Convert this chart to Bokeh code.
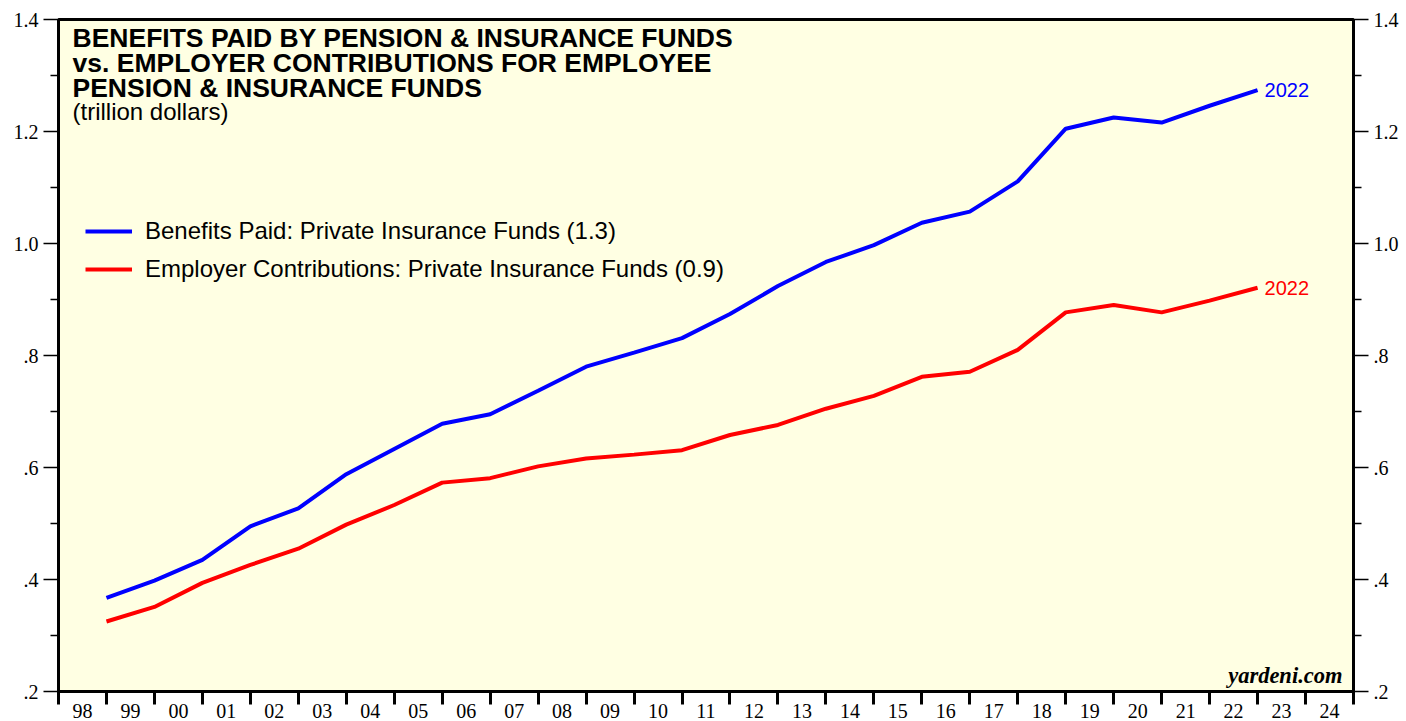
from bokeh.plotting import figure
from bokeh.models import FixedTicker, LinearAxis, Label, Legend, LegendItem
from bokeh.embed import file_html
from bokeh.resources import INLINE

# ---- data (annual, trillion dollars) ----
years = list(range(1998, 2023))
benefits_paid = [0.367, 0.398, 0.435, 0.495, 0.527, 0.588, 0.633, 0.678, 0.695, 0.737,
                 0.780, 0.805, 0.831, 0.874, 0.924, 0.967, 0.997, 1.037, 1.057, 1.111,
                 1.205, 1.225, 1.216, 1.246, 1.274]
employer_contrib = [0.325, 0.351, 0.394, 0.426, 0.455, 0.498, 0.533, 0.573, 0.581, 0.602,
                    0.616, 0.623, 0.631, 0.658, 0.676, 0.705, 0.728, 0.762, 0.771, 0.810,
                    0.877, 0.890, 0.877, 0.898, 0.921]
x_label_years = list(range(1998, 2025))
x_tick_labels = ["98", "99", "00", "01", "02", "03", "04", "05", "06", "07", "08", "09",
                 "10", "11", "12", "13", "14", "15", "16", "17", "18", "19", "20", "21",
                 "22", "23", "24"]
y_ticks = [0.2, 0.4, 0.6, 0.8, 1.0, 1.2, 1.4]
y_tick_labels = [".2", ".4", ".6", ".8", "1.0", "1.2", "1.4"]
y_minor = [0.3, 0.5, 0.7, 0.9, 1.1, 1.3]
title_lines = ["BENEFITS PAID BY PENSION & INSURANCE FUNDS",
               "vs. EMPLOYER CONTRIBUTIONS FOR EMPLOYEE",
               "PENSION & INSURANCE FUNDS"]
subtitle = "(trillion dollars)"
series_names = ["Benefits Paid: Private Insurance Funds (1.3)",
                "Employer Contributions: Private Insurance Funds (0.9)"]

# annual values plotted at year end
xs = [y + 1 for y in years]

SANS = "Liberation Sans"
SERIF = "Liberation Serif"
BLUE = "#0000FF"
RED = "#FF0000"

p = figure(frame_width=1295, frame_height=672,
           x_range=(1998, 2025), y_range=(0.2, 1.4),
           output_backend="svg", toolbar_location=None,
           min_border_left=58, min_border_right=38,
           min_border_top=19, min_border_bottom=24,
           background_fill_color="#FFFFE3", border_fill_color="white")
p.grid.visible = False
p.outline_line_color = "black"
p.outline_line_width = 3

# x axis: labels centered in year, minor ticks at year boundaries
xa = p.xaxis[0]
mid = [y + 0.5 for y in x_label_years]
xa.ticker = FixedTicker(ticks=mid, minor_ticks=x_label_years + [2025])
xa.major_label_overrides = {m: l for m, l in zip(mid, x_tick_labels)}
xa.major_tick_line_color = None
xa.major_tick_out = 0
xa.major_tick_in = 0
xa.minor_tick_out = 13
xa.minor_tick_in = 0
xa.minor_tick_line_width = 3
xa.minor_tick_line_color = "black"
xa.axis_line_width = 3
xa.major_label_standoff = -1
xa.major_label_text_font = SERIF
xa.major_label_text_font_size = "20px"
xa.major_label_text_color = "black"

def style_y(ax):
    ax.ticker = FixedTicker(ticks=y_ticks, minor_ticks=y_minor)
    ax.major_label_overrides = {t: l for t, l in zip(y_ticks, y_tick_labels)}
    ax.major_tick_out = 15
    ax.major_tick_in = 0
    ax.minor_tick_out = 8
    ax.minor_tick_in = 0
    ax.major_tick_line_width = 1.5
    ax.minor_tick_line_width = 1.5
    ax.axis_line_width = 3
    ax.major_label_standoff = 5
    ax.major_label_text_font = SERIF
    ax.major_label_text_font_size = "20px"
    ax.major_label_text_color = "black"

style_y(p.yaxis[0])
ry = LinearAxis()
style_y(ry)
p.add_layout(ry, "right")

r1 = p.line(xs, benefits_paid, line_color=BLUE, line_width=4)
r2 = p.line(xs, employer_contrib, line_color=RED, line_width=4)

legend = Legend(items=[LegendItem(label=series_names[0], renderers=[r1]),
                       LegendItem(label=series_names[1], renderers=[r2])],
                location=(27, 408), orientation="vertical",
                glyph_width=47, glyph_height=20, label_height=20,
                label_standoff=13, spacing=10, padding=0, margin=0,
                label_text_font=SANS, label_text_font_size="24px",
                label_text_color="black",
                background_fill_alpha=0, border_line_alpha=0)
p.add_layout(legend, "center")

# title block
for i, t in enumerate(title_lines):
    p.add_layout(Label(x=14, y=654 - 25 * i, x_units="screen", y_units="screen",
                       text=t, text_font=SANS, text_font_style="bold",
                       text_font_size="26.5px", text_color="black",
                       text_baseline="middle"))
p.add_layout(Label(x=14, y=580, x_units="screen", y_units="screen",
                   text=subtitle, text_font=SANS, text_font_size="24px",
                   text_color="black", text_baseline="middle"))

# end labels
p.add_layout(Label(x=xs[-1], y=benefits_paid[-1], x_offset=7, text=str(years[-1]),
                   text_font=SANS, text_font_size="20px", text_color=BLUE,
                   text_baseline="middle"))
p.add_layout(Label(x=xs[-1], y=employer_contrib[-1], x_offset=7, text=str(years[-1]),
                   text_font=SANS, text_font_size="20px", text_color=RED,
                   text_baseline="middle"))

p.add_layout(Label(x=1284, y=16, x_units="screen", y_units="screen",
                   text="yardeni.com", text_font=SERIF, text_font_style="bold italic",
                   text_font_size="22.5px", text_color="black", text_align="right",
                   text_baseline="middle"))

open("out.html", "w").write(file_html(p, INLINE))
